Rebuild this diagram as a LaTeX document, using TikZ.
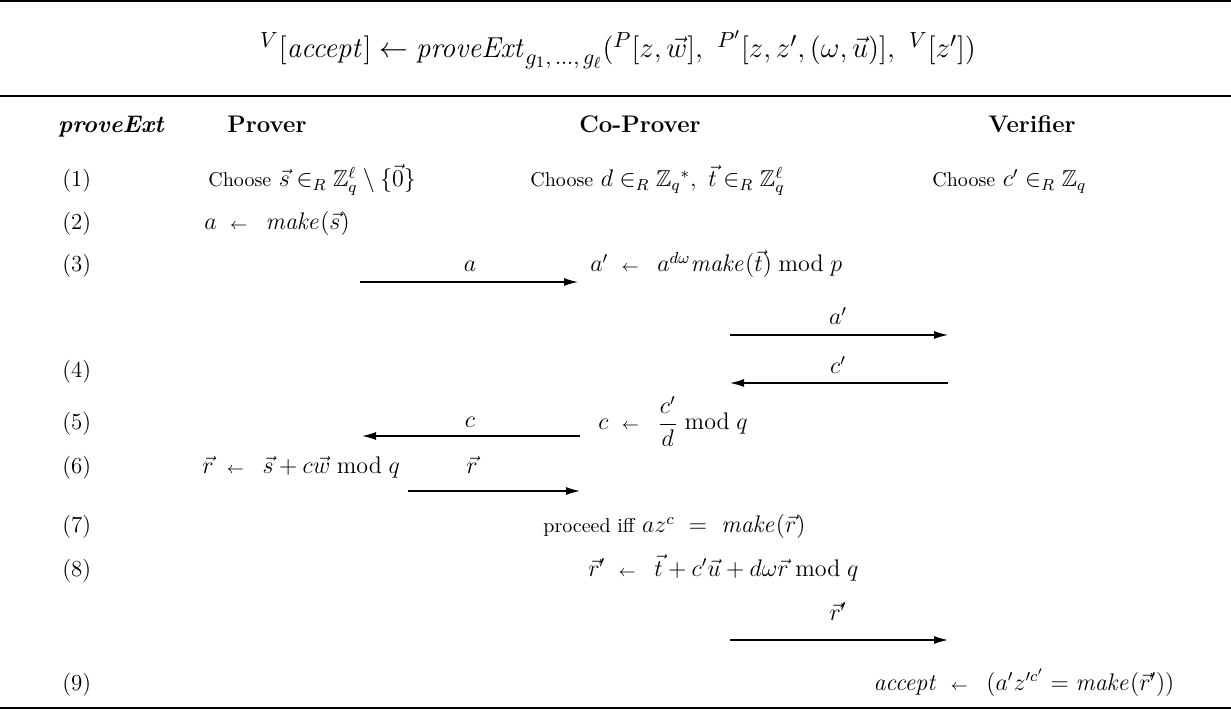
\documentclass[tikz,border=0pt]{standalone}
\usepackage{amsmath,amssymb}
\usetikzlibrary{arrows.meta}
\newcommand{\lar}{\mathrel{\mkern5mu{\scriptstyle\leftarrow}\mkern9mu}}
\newcommand{\smtxt}[1]{{\fontsize{10}{12}\selectfont #1}}
\begin{document}
\begin{tikzpicture}[x=0.5pt,y=-0.5pt,
  font=\fontsize{11.5}{14}\selectfont,
  lbl/.style={anchor=base west,inner sep=0pt},
  txt/.style={anchor=base west,inner sep=0pt},
  hdr/.style={anchor=base,inner sep=0pt,font=\large\bfseries},
  msg/.style={draw,line width=0.65pt,-{Latex[length=7pt,width=4pt]}},
  msglbl/.style={anchor=base,inner sep=0pt}]
\useasboundingbox (0,0) rectangle (1231,710);
\draw[line width=0.6pt] (0,1) -- (1231,1);
\draw[line width=0.6pt] (0,96) -- (1231,96);
\draw[line width=0.6pt] (0,708) -- (1231,708);
\node[anchor=base,inner sep=0pt,font=\fontsize{15.8}{19}\selectfont] (title) at (618,58) {${}^{V}[\mathit{accept}] \leftarrow \mathit{proveExt}_{g_1,\,\ldots,\,g_\ell}({}^{P}[z,\vec{w}],\ {}^{P'}[z,z',(\omega,\vec{u})],\ {}^{V}[z'])$};
\node[hdr,font=\fontsize{13}{15}\selectfont\bfseries] (h0) at (112,133) {$\boldsymbol{\mathit{proveExt}}$};
\node[hdr] (h1) at (267,133) {Prover};
\node[hdr] (h2) at (640,133) {Co-Prover};
\node[hdr] (h3) at (1032,133) {Verifier};
% row labels
\node[lbl] (r1) at (62,187) {(1)};
\node[lbl] (r2) at (62,230) {(2)};
\node[lbl] (r3) at (62,272) {(3)};
\node[lbl] (r4) at (62,378) {(4)};
\node[lbl] (r5) at (62,430) {(5)};
\node[lbl] (r6) at (62,474) {(6)};
\node[lbl] (r7) at (62,533) {(7)};
\node[lbl] (r8) at (62,576) {(8)};
\node[lbl] (r9) at (62,690) {(9)};
% row 1
\node[txt] (p1) at (208,187) {\smtxt{Choose} $\vec{s}\in_R \mathbb{Z}_q^{\ell}\setminus\{\vec{0}\}$};
\node[txt] (c1) at (530,187) {\smtxt{Choose} $d\in_R \mathbb{Z}_q{}^{*},\ \vec{t}\in_R\mathbb{Z}_q^{\ell}$};
\node[txt] (v1) at (932,187) {\smtxt{Choose} $c'\in_R\mathbb{Z}_q$};
% row 2
\node[txt] (p2) at (204,230) {$a\lar\mathit{make}(\vec{s})$};
% row 3
\node[txt] (c3) at (590,272) {$a'\lar a^{d\omega}\mathit{make}(\vec{t})\bmod p$};
\coordinate (a1) at (360,282);
\coordinate (a2) at (578,282);
\draw[msg] (a1) -- (a2);
\node[msglbl] (la) at (470,272) {$a$};
\coordinate (b1) at (730,335);
\coordinate (b2) at (948,335);
\draw[msg] (b1) -- (b2);
\node[msglbl] (lb) at (838,325) {$a'$};
% row 4
\coordinate (d1) at (948,383);
\coordinate (d2) at (730,383);
\draw[msg] (d1) -- (d2);
\node[msglbl] (ld) at (838,374) {$c'$};
% row 5
\node[txt] (c5) at (598,430) {$c\lar\dfrac{c'}{d}\bmod q$};
\coordinate (e1) at (580,436);
\coordinate (e2) at (362,436);
\draw[msg] (e1) -- (e2);
\node[msglbl] (le) at (470,428) {$c$};
% row 6
\node[txt] (p6) at (202,474) {$\vec{r}\lar\vec{s}+c\vec{w}\bmod q$};
\coordinate (f1) at (408,491);
\coordinate (f2) at (580,491);
\draw[msg] (f1) -- (f2);
\node[msglbl] (lf) at (472,474) {$\vec{r}$};
% row 7
\node[txt] (c7) at (543,533) {\smtxt{proceed iff} $a z^{c}\ =\ \mathit{make}(\vec{r})$};
% row 8
\node[txt] (c8) at (588,576) {$\vec{r}'\lar\vec{t}+c'\vec{u}+d\omega\vec{r}\bmod q$};
\coordinate (g1) at (730,640);
\coordinate (g2) at (948,640);
\draw[msg] (g1) -- (g2);
\node[msglbl] (lg) at (838,620) {$\vec{r}'$};
% row 9
\node[txt] (v9) at (873,690) {$\mathit{accept}\lar(a'z'^{c'}=\mathit{make}(\vec{r}'))$};
\end{tikzpicture}
\end{document}
